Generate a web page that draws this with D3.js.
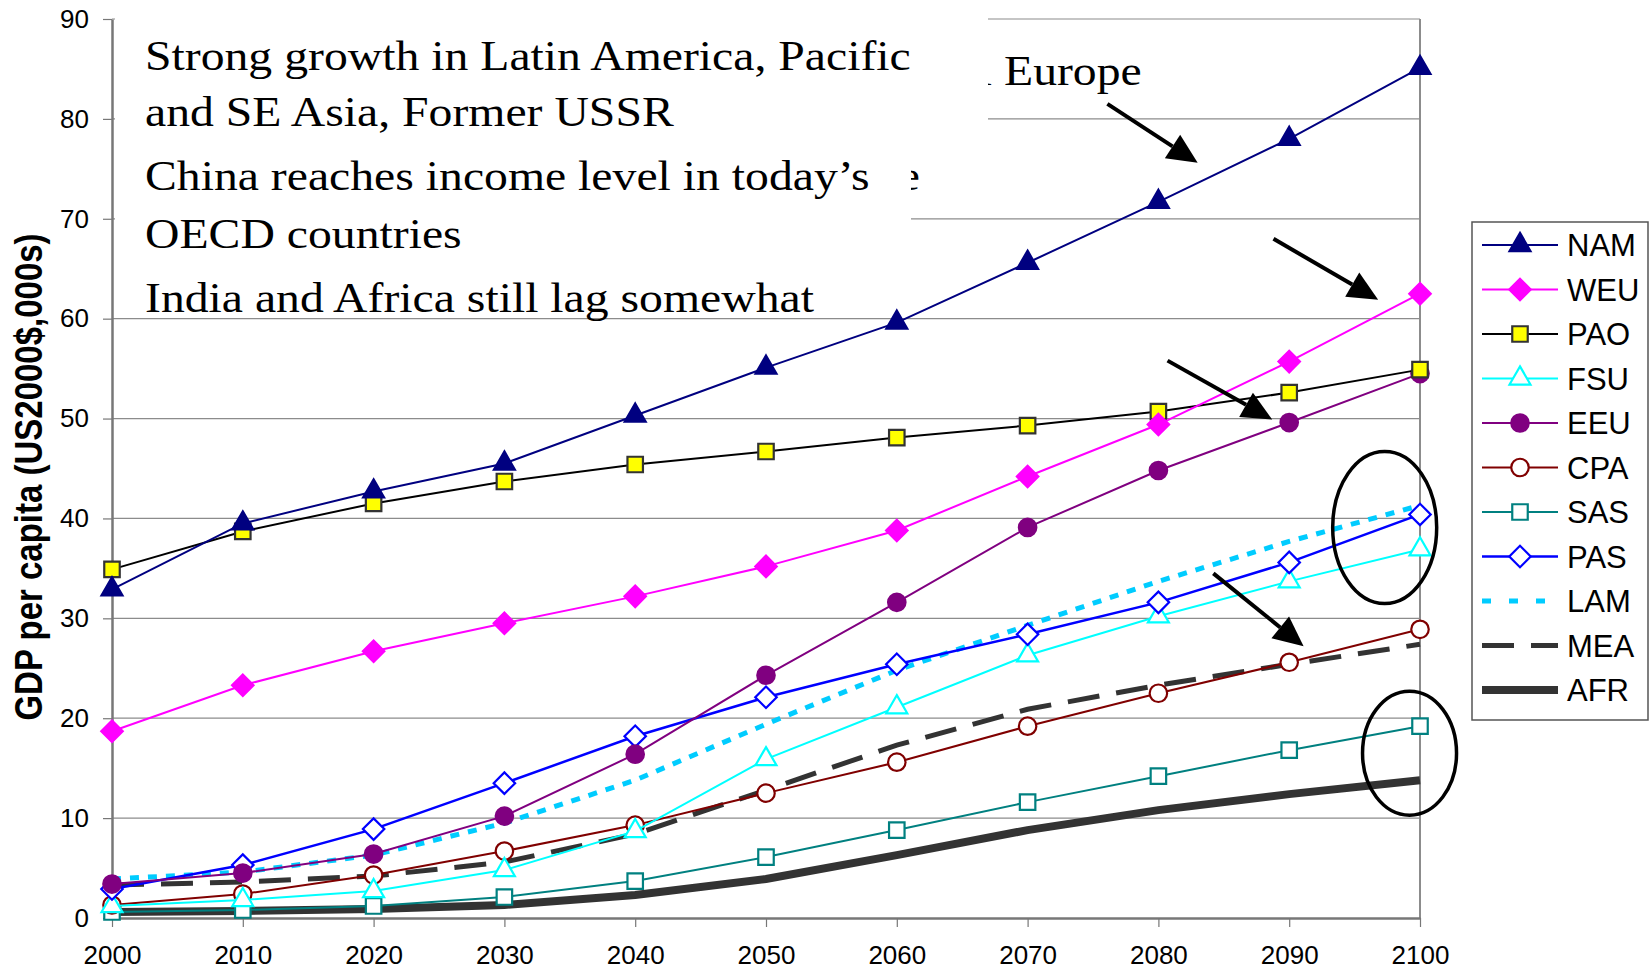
<!DOCTYPE html>
<html>
<head>
<meta charset="utf-8">
<script src="https://cdn.jsdelivr.net/npm/d3@7"></script>
<style>
  body { margin: 0; background: #fff; }
  svg { display: block; }
</style>
</head>
<body>
<div id="chart"></div>
<script>
//// data
var years = [2000, 2010, 2020, 2030, 2040, 2050, 2060, 2070, 2080, 2090, 2100];
var yTicks = [0, 10, 20, 30, 40, 50, 60, 70, 80, 90];

var NAM = [32.9, 39.5, 42.7, 45.5, 50.3, 55.1, 59.6, 65.6, 71.7, 78.0, 85.1];
var WEU = [18.7, 23.3, 26.7, 29.5, 32.2, 35.2, 38.8, 44.2, 49.4, 55.7, 62.5];
var PAO = [34.9, 38.7, 41.5, 43.7, 45.4, 46.7, 48.1, 49.3, 50.7, 52.6, 54.9];
var FSU = [1.2, 1.8, 2.7, 4.8, 8.7, 15.9, 21.1, 26.3, 30.2, 33.7, 36.9];
var EEU = [3.4, 4.5, 6.4, 10.2, 16.4, 24.3, 31.6, 39.1, 44.8, 49.6, 54.5];
var CPA = [1.3, 2.4, 4.3, 6.7, 9.3, 12.5, 15.6, 19.2, 22.5, 25.6, 28.9];
var SAS = [0.6, 0.8, 1.2, 2.1, 3.7, 6.1, 8.8, 11.6, 14.2, 16.8, 19.2];
var PAS = [2.9, 5.3, 8.9, 13.5, 18.2, 22.1, 25.4, 28.4, 31.6, 35.6, 40.4];
var LAM = [3.9, 4.6, 6.3, 9.5, 13.8, 19.4, 24.8, 29.3, 33.7, 37.7, 41.3];
var MEA = [3.3, 3.6, 4.2, 5.6, 8.4, 12.8, 17.3, 20.9, 23.3, 25.4, 27.4];
var AFR = [0.6, 0.7, 0.9, 1.3, 2.3, 3.9, 6.3, 8.8, 10.8, 12.4, 13.8];

var noteLines = [
  "Strong growth in Latin America, Pacific",
  "and SE Asia, Former USSR",
  "China reaches income level in today\u2019s",
  "OECD countries",
  "India and Africa still lag somewhat"
];

// arrows and ellipses, in data units [year, value]
var arrows = [
  [[2076.1, 81.5], [2083.0, 75.6]],
  [[2088.8, 68.0], [2096.8, 61.9]],
  [[2080.7, 55.8], [2088.7, 49.9]],
  [[2084.2, 34.5], [2091.1, 27.2]]
];
var ellipses = [[2097.3, 39.1], [2099.2, 16.5]];

//// series table
var series = [
  {name: "NAM", values: NAM, color: "#000080", width: 2, marker: "triangle", fill: "#000080"},
  {name: "WEU", values: WEU, color: "#ff00ff", width: 2, marker: "diamond", fill: "#ff00ff"},
  {name: "PAO", values: PAO, color: "#000000", width: 2, marker: "square", fill: "#ffff00", stroke: "#333333"},
  {name: "FSU", values: FSU, color: "#00ffff", width: 2, marker: "triangle", fill: "#ffffff"},
  {name: "EEU", values: EEU, color: "#800080", width: 2, marker: "circle", fill: "#800080"},
  {name: "CPA", values: CPA, color: "#800000", width: 2, marker: "circle", fill: "#ffffff"},
  {name: "SAS", values: SAS, color: "#008080", width: 2, marker: "square", fill: "#ffffff"},
  {name: "PAS", values: PAS, color: "#0000ff", width: 2.5, marker: "diamond", fill: "#ffffff"},
  {name: "LAM", values: LAM, color: "#00ccff", width: 5, dash: "9,9"},
  {name: "MEA", values: MEA, color: "#333333", width: 5, dash: "32,17"},
  {name: "AFR", values: AFR, color: "#333333", width: 8}
];

//// chart
var W = 1650, H = 971;
var margin = {top: 19, left: 112, right: 230, bottom: 53};
var width = 1420 - margin.left, height = 918 - margin.top;

var svg = d3.select("#chart").append("svg")
  .attr("width", W).attr("height", H)
  .style("font-family", "'Liberation Sans', Arial, sans-serif");

var g = svg.append("g")
  .attr("transform", "translate(" + margin.left + "," + margin.top + ")");

var xScale = d3.scaleLinear().domain([2000, 2100]).range([0, width]);
var yScale = d3.scaleLinear().domain([0, 90]).range([height, 0]);

// grid lines
g.append("g").selectAll("line")
  .data(yTicks.filter(function(d) { return d > 0; }))
  .enter().append("line")
  .attr("x1", 0).attr("x2", width)
  .attr("y1", function(d) { return yScale(d); })
  .attr("y2", function(d) { return yScale(d); })
  .attr("stroke", "#8c8c8c").attr("stroke-width", 1.2);

// right border
g.append("line")
  .attr("x1", width).attr("x2", width).attr("y1", 0).attr("y2", height)
  .attr("stroke", "#8c8c8c").attr("stroke-width", 2);

// y axis
var yAxis = g.append("g")
  .call(d3.axisLeft(yScale).tickValues(yTicks).tickSize(9).tickSizeOuter(0).tickPadding(14));
yAxis.select(".domain").attr("stroke", "#777").attr("stroke-width", 2.5);
yAxis.selectAll(".tick line").attr("stroke", "#777").attr("stroke-width", 1.2);
yAxis.selectAll("text").attr("font-size", 26).attr("fill", "#000")
  .attr("font-family", "'Liberation Sans', Arial, sans-serif");

// x axis
var xAxis = g.append("g")
  .attr("transform", "translate(0," + height + ")")
  .call(d3.axisBottom(xScale).tickValues(years).tickFormat(d3.format("d"))
    .tickSize(9).tickSizeOuter(0).tickPadding(19));
xAxis.select(".domain").attr("stroke", "#777").attr("stroke-width", 2.5);
xAxis.selectAll(".tick line").attr("stroke", "#777").attr("stroke-width", 1.2);
xAxis.selectAll("text").attr("font-size", 26).attr("fill", "#000")
  .attr("font-family", "'Liberation Sans', Arial, sans-serif");

// y title
svg.append("text")
  .attr("transform", "translate(42,477) rotate(-90) scale(1,1.15)")
  .attr("text-anchor", "middle")
  .attr("font-size", 33).attr("font-weight", "bold")
  .text("GDP per capita (US2000$,000s)");

//// lines
var line = d3.line()
  .x(function(d, i) { return xScale(years[i]); })
  .y(function(d) { return yScale(d); });

// draw the plain lines first (AFR at the bottom), then marked series
var order = ["AFR", "MEA", "LAM", "SAS", "CPA", "FSU", "PAS", "EEU", "PAO", "WEU", "NAM"];

function symbolPath(type) {
  if (type === "triangle") return d3.symbol(d3.symbolTriangle, 190)();
  if (type === "diamond") return d3.symbol(d3.symbolSquare, 230)();
  if (type === "square") return d3.symbol(d3.symbolSquare, 240)();
  return d3.symbol(d3.symbolCircle, 240)();
}

order.forEach(function(name) {
  var s = series.find(function(d) { return d.name === name; });
  g.append("path")
    .datum(s.values)
    .attr("fill", "none")
    .attr("stroke", s.color)
    .attr("stroke-width", s.width)
    .attr("stroke-dasharray", s.dash || null)
    .attr("d", line);

  if (s.marker) {
    g.selectAll(".m-" + s.name)
      .data(s.values)
      .enter().append("path")
      .attr("class", "m-" + s.name)
      .attr("d", symbolPath(s.marker))
      .attr("transform", function(d, i) {
        return "translate(" + xScale(years[i]) + "," + yScale(d) + ")" +
          (s.marker === "diamond" ? " rotate(45)" : "");
      })
      .attr("fill", s.fill)
      .attr("stroke", s.stroke || s.color)
      .attr("stroke-width", 2.2);
  }
});

//// text boxes
// bits of a text box hidden behind the note
var back = svg.append("g")
  .attr("font-family", "'Liberation Serif', 'Times New Roman', serif")
  .attr("font-size", 42);
back.append("text")
  .attr("transform", "translate(1004,85) scale(1.136,1)")
  .text("Europe");
back.append("text")
  .attr("transform", "translate(992,85) scale(1.136,1)")
  .attr("text-anchor", "end")
  .text("l");
back.append("text")
  .attr("transform", "translate(920,190) scale(1.136,1)")
  .attr("text-anchor", "end")
  .text("e");

svg.append("rect").attr("x", 115).attr("y", 6).attr("width", 988 - 115).attr("height", 130).attr("fill", "#fff");
svg.append("rect").attr("x", 115).attr("y", 136).attr("width", 911 - 115).attr("height", 168).attr("fill", "#fff");

var baselines = [70, 126, 190, 248, 312];
svg.append("g")
  .attr("font-family", "'Liberation Serif', 'Times New Roman', serif")
  .attr("font-size", 42)
  .selectAll("text")
  .data(noteLines)
  .enter().append("text")
  .attr("transform", function(d, i) { return "translate(145," + baselines[i] + ") scale(1.136,1)"; })
  .text(function(d) { return d; });

//// arrows
arrows.forEach(function(a) {
  var x1 = xScale(a[0][0]) + margin.left, y1 = yScale(a[0][1]) + margin.top;
  var x2 = xScale(a[1][0]) + margin.left, y2 = yScale(a[1][1]) + margin.top;
  var ang = Math.atan2(y2 - y1, x2 - x1);
  var hl = 30, hw = 14;
  var bx = x2 - hl * Math.cos(ang), by = y2 - hl * Math.sin(ang);
  svg.append("line")
    .attr("x1", x1).attr("y1", y1).attr("x2", bx).attr("y2", by)
    .attr("stroke", "#000").attr("stroke-width", 4);
  svg.append("polygon")
    .attr("points", [
      [x2, y2],
      [bx + hw * Math.sin(ang), by - hw * Math.cos(ang)],
      [bx - hw * Math.sin(ang), by + hw * Math.cos(ang)]
    ].map(function(p) { return p.join(","); }).join(" "))
    .attr("fill", "#000");
});

//// ellipses
var ellipseSize = [[52, 76], [47, 62]];
ellipses.forEach(function(e, i) {
  svg.append("ellipse")
    .attr("cx", xScale(e[0]) + margin.left)
    .attr("cy", yScale(e[1]) + margin.top)
    .attr("rx", ellipseSize[i][0]).attr("ry", ellipseSize[i][1])
    .attr("fill", "none").attr("stroke", "#000").attr("stroke-width", 3.5);
});

//// legend
var legend = svg.append("g").attr("transform", "translate(1472,222)");
legend.append("rect")
  .attr("width", 176).attr("height", 498)
  .attr("fill", "#fff").attr("stroke", "#555").attr("stroke-width", 1.5);

var items = legend.selectAll(".item")
  .data(series)
  .enter().append("g")
  .attr("class", "item")
  .attr("transform", function(d, i) { return "translate(0," + (23 + i * 44.5) + ")"; });

items.append("line")
  .attr("x1", 10).attr("x2", 86)
  .attr("stroke", function(d) { return d.color; })
  .attr("stroke-width", function(d) { return d.width; })
  .attr("stroke-dasharray", function(d) { return d.name === "LAM" ? "9,18" : (d.dash || null); });

items.filter(function(d) { return d.marker; })
  .append("path")
  .attr("d", function(d) { return symbolPath(d.marker); })
  .attr("transform", function(d) { return "translate(48,0)" + (d.marker === "diamond" ? " rotate(45)" : ""); })
  .attr("fill", function(d) { return d.fill; })
  .attr("stroke", function(d) { return d.stroke || d.color; })
  .attr("stroke-width", 2.2);

items.append("text")
  .attr("x", 95).attr("dy", "0.36em")
  .attr("font-size", 31)
  .text(function(d) { return d.name; });
</script>
</body>
</html>
